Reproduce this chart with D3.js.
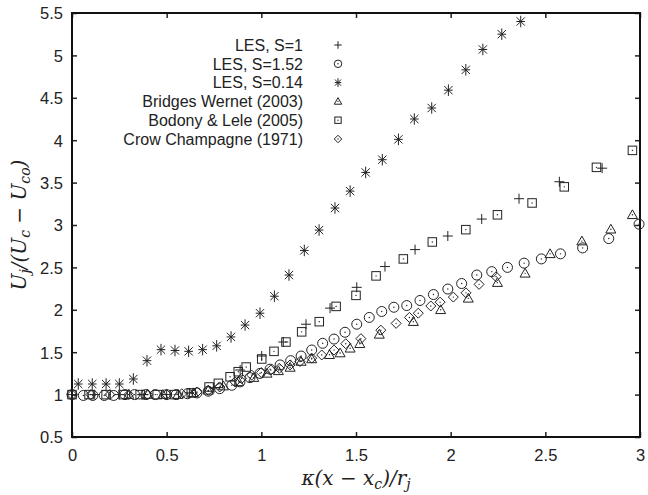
<!DOCTYPE html>
<html>
<head>
    <script src="https://d3js.org/d3.v7.min.js"></script>
    <style>
        body {margin: 0; background: #fff; font-family: "Liberation Sans", Arial, Helvetica, sans-serif;}
        .tick text {font-size: 16.5px; fill: #222;}
        .marker {fill: none; stroke: #222; stroke-width: 1;}
        .dot {fill: #222;}
        .math {font-family: "DejaVu Serif", "Liberation Serif", serif; font-style: italic; font-size: 20px; fill: #222;}
    </style>
</head>
<body>
    <svg width="648" height="495"></svg>
    <script>
        // Series: [x, y]
        let lesS1 = [[0.0, 1.0], [0.12, 1.0], [0.25, 1.0], [0.37, 1.0], [0.5, 1.0], [0.62, 1.02],
            [0.75, 1.08], [0.888, 1.29], [1.002, 1.455], [1.116, 1.62], [1.236, 1.83], [1.363, 2.02],
            [1.504, 2.265], [1.653, 2.51], [1.812, 2.71], [1.985, 2.87], [2.164, 3.07], [2.361, 3.31],
            [2.574, 3.51], [2.8, 3.67]];
        let lesS152 = [[0.0, 1.0], [0.06, 0.99], [0.11, 0.99], [0.17, 0.99], [0.22, 0.99], [0.28, 1.0],
            [0.33, 1.0], [0.39, 1.0], [0.44, 1.0], [0.5, 1.0], [0.55, 1.0], [0.61, 1.01], [0.66, 1.02],
            [0.72, 1.04], [0.78, 1.07], [0.844, 1.11], [0.887, 1.15], [0.94, 1.2], [0.993, 1.25],
            [1.046, 1.3], [1.099, 1.35], [1.155, 1.4], [1.21, 1.455], [1.266, 1.526], [1.324, 1.605],
            [1.384, 1.655], [1.442, 1.735], [1.504, 1.83], [1.57, 1.91], [1.636, 1.98], [1.7, 2.03],
            [1.768, 2.05], [1.838, 2.11], [1.909, 2.18], [1.985, 2.245], [2.058, 2.31], [2.138, 2.41],
            [2.217, 2.45], [2.3, 2.5], [2.388, 2.55], [2.479, 2.6], [2.58, 2.66], [2.697, 2.73],
            [2.835, 2.84], [2.995, 3.01]];
        let lesS014 = [[0.033, 1.125], [0.107, 1.125], [0.18, 1.125], [0.25, 1.125], [0.324, 1.184],
            [0.396, 1.4], [0.47, 1.53], [0.544, 1.52], [0.616, 1.51], [0.69, 1.53], [0.764, 1.575],
            [0.84, 1.68], [0.914, 1.82], [0.993, 1.96], [1.069, 2.16], [1.146, 2.41], [1.227, 2.7],
            [1.305, 2.94], [1.389, 3.2], [1.469, 3.4], [1.551, 3.62], [1.639, 3.77], [1.724, 4.01],
            [1.808, 4.25], [1.9, 4.38], [1.988, 4.59], [2.08, 4.83], [2.17, 5.07], [2.27, 5.25],
            [2.37, 5.4]];
        let bridgesWernet = [[0.3, 1.0], [0.4, 1.0], [0.48, 1.0], [0.56, 1.0], [0.64, 1.02], [0.72, 1.05],
            [0.8, 1.1], [0.88, 1.15], [0.96, 1.2], [1.03, 1.25], [1.09, 1.28], [1.152, 1.32], [1.21, 1.39],
            [1.266, 1.42], [1.36, 1.47], [1.416, 1.49], [1.469, 1.546], [1.52, 1.6], [1.623, 1.71],
            [1.803, 1.86], [1.947, 2.0], [2.093, 2.135], [2.247, 2.32], [2.393, 2.43], [2.525, 2.66],
            [2.693, 2.81], [2.846, 2.95], [2.96, 3.12]];
        let bodonyLele = [[0.0, 1.0], [0.09, 1.0], [0.18, 1.0], [0.27, 1.0], [0.36, 1.0], [0.45, 1.0],
            [0.54, 1.0], [0.63, 1.02], [0.724, 1.09], [0.773, 1.133], [0.835, 1.21], [0.878, 1.27],
            [0.92, 1.325], [1.002, 1.42], [1.067, 1.51], [1.13, 1.62], [1.213, 1.74], [1.306, 1.86],
            [1.395, 2.04], [1.5, 2.17], [1.606, 2.4], [1.75, 2.6], [1.903, 2.8], [2.08, 2.945],
            [2.247, 3.12], [2.43, 3.26], [2.6, 3.45], [2.77, 3.68], [2.96, 3.88]];
        let crowChampagne = [[0.0, 1.0], [0.1, 1.0], [0.2, 1.0], [0.3, 1.0], [0.4, 1.0], [0.5, 1.0],
            [0.58, 1.01], [0.66, 1.03], [0.72, 1.05], [0.78, 1.09], [0.861, 1.15], [0.896, 1.19],
            [0.949, 1.23], [1.0, 1.26], [1.05, 1.29], [1.095, 1.31], [1.152, 1.35], [1.204, 1.39],
            [1.266, 1.43], [1.319, 1.467], [1.384, 1.525], [1.446, 1.6], [1.526, 1.66], [1.631, 1.76],
            [1.712, 1.84], [1.782, 1.91], [1.829, 1.96], [1.895, 2.045], [1.944, 2.09], [2.014, 2.15],
            [2.081, 2.2], [2.15, 2.3], [2.24, 2.39]];

        let xTicks = [0, 0.5, 1, 1.5, 2, 2.5, 3];
        let yTicks = [0.5, 1, 1.5, 2, 2.5, 3, 3.5, 4, 4.5, 5, 5.5];

        let series = [
            {name: "LES, S=1", data: lesS1, shape: "plus"},
            {name: "LES, S=1.52", data: lesS152, shape: "circle"},
            {name: "LES, S=0.14", data: lesS014, shape: "star"},
            {name: "Bridges Wernet (2003)", data: bridgesWernet, shape: "triangle"},
            {name: "Bodony & Lele (2005)", data: bodonyLele, shape: "square"},
            {name: "Crow Champagne (1971)", data: crowChampagne, shape: "diamond"}
        ];

        let svg = d3.select("svg");
        let pL = 72, pR = 640, pT = 13, pB = 437;

        let x = d3.scaleLinear().domain([0, 3]).range([pL, pR]);
        let y = d3.scaleLinear().domain([0.5, 5.5]).range([pB, pT]);

        // draw one marker at (cx, cy), size s
        function marker(g, shape, cx, cy, s) {
            let m = g.append("g").attr("transform", `translate(${cx},${cy})`);
            let h = s / 2;
            if (shape === "plus") {
                m.append("path").attr("class", "marker").attr("d", `M${-h},0H${h}M0,${-h}V${h}`);
                return;
            }
            if (shape === "star") {
                let hs = h * 1.15, d = hs * 0.72;
                m.append("path").attr("class", "marker").attr("stroke-width", 1.2)
                    .attr("d", `M${-hs * 0.75},0H${hs * 0.75}M0,${-hs}V${hs}M${-d},${-d}L${d},${d}M${-d},${d}L${d},${-d}`);
                return;
            }
            if (shape === "circle") {
                m.append("circle").attr("class", "marker").attr("r", h);
            } else if (shape === "square") {
                let q = h * 0.85;
                m.append("rect").attr("class", "marker")
                    .attr("x", -q).attr("y", -q).attr("width", 2 * q).attr("height", 2 * q);
            } else if (shape === "triangle") {
                m.append("path").attr("class", "marker")
                    .attr("d", `M0,${-h}L${h},${h * 0.75}L${-h},${h * 0.75}Z`);
            } else if (shape === "diamond") {
                m.append("path").attr("class", "marker")
                    .attr("d", `M0,${-h}L${h},0L0,${h}L${-h},0Z`);
            }
            m.append("circle").attr("class", "dot").attr("r", 0.7);
        }

        // axes, ticks inward on all four sides
        let tickLen = 5;
        let axB = svg.append("g").attr("transform", `translate(0,${pB})`)
            .call(d3.axisBottom(x).tickValues(xTicks).tickSizeInner(-tickLen).tickSizeOuter(0)
                .tickPadding(9).tickFormat(d3.format("")));
        let axT = svg.append("g").attr("transform", `translate(0,${pT})`)
            .call(d3.axisTop(x).tickValues(xTicks).tickSizeInner(-tickLen).tickSizeOuter(0).tickFormat(""));
        let axL = svg.append("g").attr("transform", `translate(${pL},0)`)
            .call(d3.axisLeft(y).tickValues(yTicks).tickSizeInner(-tickLen).tickSizeOuter(0)
                .tickPadding(9).tickFormat(d3.format("")));
        let axR = svg.append("g").attr("transform", `translate(${pR},0)`)
            .call(d3.axisRight(y).tickValues(yTicks).tickSizeInner(-tickLen).tickSizeOuter(0).tickFormat(""));
        [axB, axT, axL, axR].forEach(a => {
            a.select(".domain").remove();
            a.selectAll(".tick line").attr("stroke", "#222").attr("stroke-width", 1.5);
            a.selectAll(".tick text").attr("font-family", "Liberation Sans, Arial, sans-serif");
        });
        axB.selectAll(".tick text").attr("dy", "0.9em");
        axL.selectAll(".tick text").attr("dy", "0.36em");

        svg.append("rect")
            .attr("x", pL).attr("y", pT)
            .attr("width", pR - pL).attr("height", pB - pT)
            .attr("fill", "none").attr("stroke", "#111").attr("stroke-width", 2);

        // points
        let plot = svg.append("g");
        series.forEach(s => {
            s.data.forEach(p => marker(plot, s.shape, x(p[0]), y(p[1]), 10));
        });

        // legend
        let leg = svg.append("g");
        series.forEach((s, i) => {
            let ly = 45 + i * 18.8;
            leg.append("text").attr("x", 303).attr("y", ly).attr("dy", "0.36em")
                .attr("text-anchor", "end").attr("font-size", 16).attr("fill", "#222")
                .text(s.name);
            marker(leg, s.shape, 338, ly, 7.5);
        });

        // axis labels
        let xl = svg.append("text").attr("class", "math").attr("x", (pL + pR) / 2).attr("y", 485)
            .attr("text-anchor", "middle");
        xl.append("tspan").text("κ(x − x");
        xl.append("tspan").attr("font-size", 14).attr("dy", 4).text("c");
        xl.append("tspan").attr("dy", -4).text(")/r");
        xl.append("tspan").attr("font-size", 14).attr("dy", 4).text("j");

        let yl = svg.append("text").attr("class", "math")
            .attr("transform", `translate(26,${(pT + pB) / 2}) rotate(-90)`)
            .attr("text-anchor", "middle");
        yl.append("tspan").text("U");
        yl.append("tspan").attr("font-size", 14).attr("dy", 4).text("j");
        yl.append("tspan").attr("dy", -4).text("/(U");
        yl.append("tspan").attr("font-size", 14).attr("dy", 4).text("c");
        yl.append("tspan").attr("dy", -4).text(" − U");
        yl.append("tspan").attr("font-size", 14).attr("dy", 4).text("co");
        yl.append("tspan").attr("dy", -4).text(")");
    </script>
</body>
</html>
